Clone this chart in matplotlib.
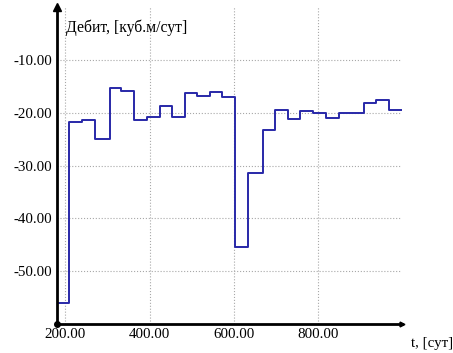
import matplotlib
matplotlib.use("Agg")
import matplotlib.pyplot as plt

# step times (days) and flow rate on each interval
t = [179, 209, 240, 270, 305, 333, 363, 395, 425, 454, 485, 514, 544, 573,
     603, 633, 669, 699, 729, 759, 789, 819, 850, 879, 909, 939, 969, 1000]
q = [-56.0, -21.8, -21.4, -25.0, -15.4, -15.9, -21.3, -20.8, -18.8, -20.9,
     -16.3, -16.8, -16.0, -17.0, -45.5, -31.4, -23.2, -19.5, -21.1, -19.6,
     -20.1, -21.0, -20.1, -20.1, -18.1, -17.5, -19.5]
xticks = [200, 400, 600, 800]
yticks = [-50, -40, -30, -20, -10]

plt.rcParams["font.family"] = ["Liberation Serif", "DejaVu Serif"]

fig = plt.figure(figsize=(4.53, 3.53), dpi=100)
ax = fig.add_axes([0.125, 0.082, 0.762, 0.898])

ax.plot(t, q + [q[-1]], drawstyle="steps-post", color="#2828a8", lw=1.4)

ax.set_xlim(179, 1000)
ax.set_ylim(-60, 0)
ax.set_xticks(xticks)
ax.set_xticklabels(["%.2f" % v for v in xticks])
ax.set_yticks(yticks)
ax.set_yticklabels(["%.2f" % v for v in yticks])
ax.tick_params(length=0, labelsize=10.8, pad=3)
ax.grid(True, color="#a8a8a8", ls=":", lw=0.8)

for s in ["top", "right"]:
    ax.spines[s].set_visible(False)
for s in ["left", "bottom"]:
    ax.spines[s].set_linewidth(2)

# axis arrows and origin dot
ax.plot(0, 1, "^", color="black", ms=6, transform=ax.transAxes, clip_on=False)
ax.plot(1, 0, ">", color="black", ms=3.5, transform=ax.transAxes, clip_on=False)
ax.plot(0, 0, "o", color="black", ms=4, transform=ax.transAxes, clip_on=False)

fig.text(66 / 453, 1 - 28 / 353, "Дебит, [куб.м/сут]", fontsize=11.3, va="center")
fig.text(411 / 453, 1 - 343 / 353, "t, [сут]", fontsize=10.8, va="center")

fig.savefig("out.png", dpi=100)
